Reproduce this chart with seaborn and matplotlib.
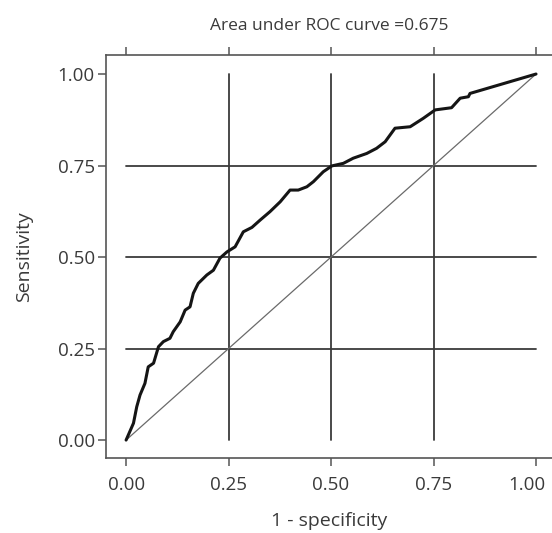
import matplotlib
matplotlib.use("Agg")
import matplotlib.pyplot as plt
import matplotlib.transforms as mtransforms
import seaborn as sns
import pandas as pd

# ROC curve
fpr = [0.000, 0.002, 0.018, 0.026, 0.034, 0.046, 0.054, 0.067, 0.079, 0.091,
       0.107, 0.115, 0.132, 0.144, 0.156, 0.164, 0.176, 0.197, 0.213, 0.229,
       0.246, 0.266, 0.286, 0.307, 0.327, 0.351, 0.376, 0.400, 0.420, 0.441,
       0.457, 0.481, 0.502, 0.530, 0.554, 0.587, 0.611, 0.632, 0.656, 0.693,
       0.725, 0.754, 0.794, 0.815, 0.835, 0.839, 1.000]
tpr = [0.000, 0.005, 0.046, 0.091, 0.123, 0.155, 0.200, 0.210, 0.255, 0.269,
       0.278, 0.296, 0.323, 0.355, 0.364, 0.401, 0.428, 0.451, 0.464, 0.497,
       0.514, 0.528, 0.569, 0.581, 0.601, 0.624, 0.651, 0.683, 0.683, 0.692,
       0.706, 0.733, 0.749, 0.756, 0.770, 0.783, 0.797, 0.815, 0.852, 0.856,
       0.879, 0.902, 0.908, 0.934, 0.938, 0.947, 1.000]
ref_line = [0.0, 1.0]
ticks = [0.0, 0.25, 0.5, 0.75, 1.0]
tick_labels = ["0.00", "0.25", "0.50", "0.75", "1.00"]
auc = 0.675

sns.set_style("white")
plt.rcParams["font.family"] = ["Open Sans", "DejaVu Sans"]

roc = pd.DataFrame({"fpr": fpr, "tpr": tpr})
ref = pd.DataFrame({"x": ref_line, "y": ref_line})

fig = plt.figure(figsize=(5.52, 5.33), dpi=100)
ax = fig.add_axes([106 / 552, 75 / 533, 446 / 552, 403 / 533])

# grid only inside the unit square, like Stata
for t in ticks[1:-1]:
    ax.plot([0, 1], [t, t], color="#3a3a3a", lw=1.3, zorder=1)
    ax.plot([t, t], [0, 1], color="#3a3a3a", lw=1.3, zorder=1)

sns.lineplot(data=ref, x="x", y="y", ax=ax, color="#6a6a6a", lw=0.9, zorder=2)
sns.lineplot(data=roc, x="fpr", y="tpr", ax=ax, color="#151515", lw=2.2,
             sort=False, estimator=None, zorder=3)

ax.set_xlim(-0.049, 1.039)
ax.set_ylim(-0.049, 1.052)
ax.set_xticks(ticks)
ax.set_xticklabels(tick_labels)
ax.set_yticks(ticks)
ax.set_yticklabels(tick_labels)

ax.spines["right"].set_visible(False)
for s in ["left", "top", "bottom"]:
    ax.spines[s].set_color("#555555")
    ax.spines[s].set_linewidth(1.2)

ax.tick_params(axis="both", direction="out", length=6, width=1.1, color="#555555",
               labelsize=13.5, labelcolor="#3a3a3a", pad=2)
ax.tick_params(axis="x", top=True, bottom=True, labeltop=False, pad=7)
ax.tick_params(axis="y", left=True)

# last x label sits a bit left so it stays inside the picture
last = ax.get_xticklabels()[-1]
last.set_transform(last.get_transform() +
                   mtransforms.ScaledTranslation(-9 / 100, 0, fig.dpi_scale_trans))

ax.set_xlabel("1 - specificity", fontsize=14, color="#3a3a3a", labelpad=13)
ax.set_ylabel("Sensitivity", fontsize=14, color="#3a3a3a", labelpad=18)
ax.set_title("Area under ROC curve =" + f"{auc:.3f}", fontsize=12.5,
             color="#3a3a3a", pad=18)

fig.savefig("out.png", dpi=100)
